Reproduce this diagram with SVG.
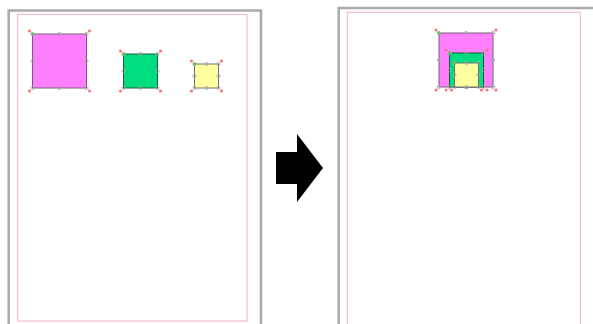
<svg xmlns="http://www.w3.org/2000/svg" width="593" height="324" viewBox="0 0 593 324">
<style>
.page{fill:#fff;stroke:#aaa;stroke-width:2.5}
.margin{fill:none;stroke:#f2b0c4;stroke-width:1}
.h{fill:none;stroke:#aaa;stroke-width:0.8}
.r{fill:#ff7070}
.g{fill:#55cc55}
.mag{fill:#ff80ff;stroke:#7a5a7a;stroke-width:1}
.grn{fill:#00dd80;stroke:#1a5a30;stroke-width:1}
.yel{fill:#ffffa0;stroke:#707070;stroke-width:1}
</style>
<rect width="593" height="324" fill="#fff"/>
<g id="page-left">
<rect class="page" x="8.7" y="10.5" width="252.3" height="320"/>
<rect class="margin" x="17.7" y="14.3" width="229.3" height="306.7"/>
</g>
<g id="page-right">
<rect class="page" x="338.7" y="8" width="270" height="330"/>
<rect class="margin" x="347.3" y="12.3" width="233" height="320"/>
</g>
<g id="arrow">
<polygon points="276,152 297,152 297,134 323,168 297,202 297,184 276,184" fill="#000"/>
</g>
<g id="magenta-left">
<rect class="mag" x="32.5" y="34" width="54" height="54"/>
<circle class="h" cx="32.5" cy="34" r="1.7"/><circle class="h" cx="59.5" cy="34" r="1.7"/><circle class="h" cx="86.5" cy="34" r="1.7"/>
<circle class="h" cx="32.5" cy="61" r="1.7"/><circle class="h" cx="86.5" cy="61" r="1.7"/>
<circle class="h" cx="32.5" cy="88" r="1.7"/><circle class="h" cx="59.5" cy="88" r="1.7"/><circle class="h" cx="86.5" cy="88" r="1.7"/>
<circle class="r" cx="29.5" cy="31" r="1.5"/><circle class="r" cx="89.5" cy="31" r="1.5"/><circle class="r" cx="29.5" cy="91" r="1.5"/><circle class="r" cx="89.5" cy="91" r="1.5"/>
<circle class="g" cx="32.5" cy="34" r="1.5"/>
</g>
<g id="green-left">
<rect class="grn" x="123.5" y="54" width="34" height="34"/>
<circle class="h" cx="123.5" cy="54" r="1.7"/><circle class="h" cx="140.5" cy="54" r="1.7"/><circle class="h" cx="157.5" cy="54" r="1.7"/>
<circle class="h" cx="123.5" cy="71" r="1.7"/><circle class="h" cx="157.5" cy="71" r="1.7"/>
<circle class="h" cx="123.5" cy="88" r="1.7"/><circle class="h" cx="140.5" cy="88" r="1.7"/><circle class="h" cx="157.5" cy="88" r="1.7"/>
<circle class="r" cx="120.5" cy="51" r="1.5"/><circle class="r" cx="160.5" cy="51" r="1.5"/><circle class="r" cx="120.5" cy="91" r="1.5"/><circle class="r" cx="160.5" cy="91" r="1.5"/>
<circle class="g" cx="123.5" cy="54" r="1.5"/>
</g>
<g id="yellow-left">
<rect class="yel" x="194.5" y="64" width="24" height="24"/>
<circle class="h" cx="194.5" cy="64" r="1.7"/><circle class="h" cx="206.5" cy="64" r="1.7"/><circle class="h" cx="218.5" cy="64" r="1.7"/>
<circle class="h" cx="194.5" cy="76" r="1.7"/><circle class="h" cx="218.5" cy="76" r="1.7"/>
<circle class="h" cx="194.5" cy="88" r="1.7"/><circle class="h" cx="206.5" cy="88" r="1.7"/><circle class="h" cx="218.5" cy="88" r="1.7"/>
<circle class="r" cx="191.5" cy="61" r="1.5"/><circle class="r" cx="221.5" cy="61" r="1.5"/><circle class="r" cx="191.5" cy="91" r="1.5"/><circle class="r" cx="221.5" cy="91" r="1.5"/>
<circle class="g" cx="194.5" cy="64" r="1.5"/>
</g>
<g id="magenta-right">
<rect class="mag" x="439" y="33" width="54" height="54"/>
<circle class="h" cx="439" cy="33" r="1.7"/><circle class="h" cx="466" cy="33" r="1.7"/><circle class="h" cx="493" cy="33" r="1.7"/>
<circle class="h" cx="439" cy="60" r="1.7"/><circle class="h" cx="493" cy="60" r="1.7"/>
<circle class="h" cx="439" cy="87" r="1.7"/><circle class="h" cx="466" cy="87" r="1.7"/><circle class="h" cx="493" cy="87" r="1.7"/>
<circle class="r" cx="436" cy="30" r="1.5"/><circle class="r" cx="496" cy="30" r="1.5"/><circle class="r" cx="436" cy="90" r="1.5"/><circle class="r" cx="496" cy="90" r="1.5"/>
<circle class="g" cx="439" cy="33" r="1.5"/>
</g>
<g id="green-right">
<rect class="grn" x="449.5" y="53" width="34" height="34"/>
<circle class="h" cx="449.5" cy="53" r="1.7"/><circle class="h" cx="466.5" cy="53" r="1.7"/><circle class="h" cx="483.5" cy="53" r="1.7"/>
<circle class="h" cx="449.5" cy="70" r="1.7"/><circle class="h" cx="483.5" cy="70" r="1.7"/>
<circle class="h" cx="449.5" cy="87" r="1.7"/><circle class="h" cx="466.5" cy="87" r="1.7"/><circle class="h" cx="483.5" cy="87" r="1.7"/>
<circle class="r" cx="446" cy="50" r="1.5"/><circle class="r" cx="487" cy="50" r="1.5"/><circle class="r" cx="446" cy="90" r="1.5"/><circle class="r" cx="487" cy="90" r="1.5"/>
<circle class="g" cx="449.5" cy="53" r="1.5"/>
</g>
<g id="yellow-right">
<rect class="yel" x="454.5" y="63" width="24" height="24"/>
<circle class="h" cx="454.5" cy="63" r="1.7"/><circle class="h" cx="466.5" cy="63" r="1.7"/><circle class="h" cx="478.5" cy="63" r="1.7"/>
<circle class="h" cx="454.5" cy="75" r="1.7"/><circle class="h" cx="478.5" cy="75" r="1.7"/>
<circle class="h" cx="454.5" cy="87" r="1.7"/><circle class="h" cx="466.5" cy="87" r="1.7"/><circle class="h" cx="478.5" cy="87" r="1.7"/>
<circle class="r" cx="451.5" cy="90" r="1.5"/><circle class="r" cx="481.5" cy="90" r="1.5"/>
<circle class="g" cx="454.5" cy="63" r="1.5"/>
</g>
</svg>
